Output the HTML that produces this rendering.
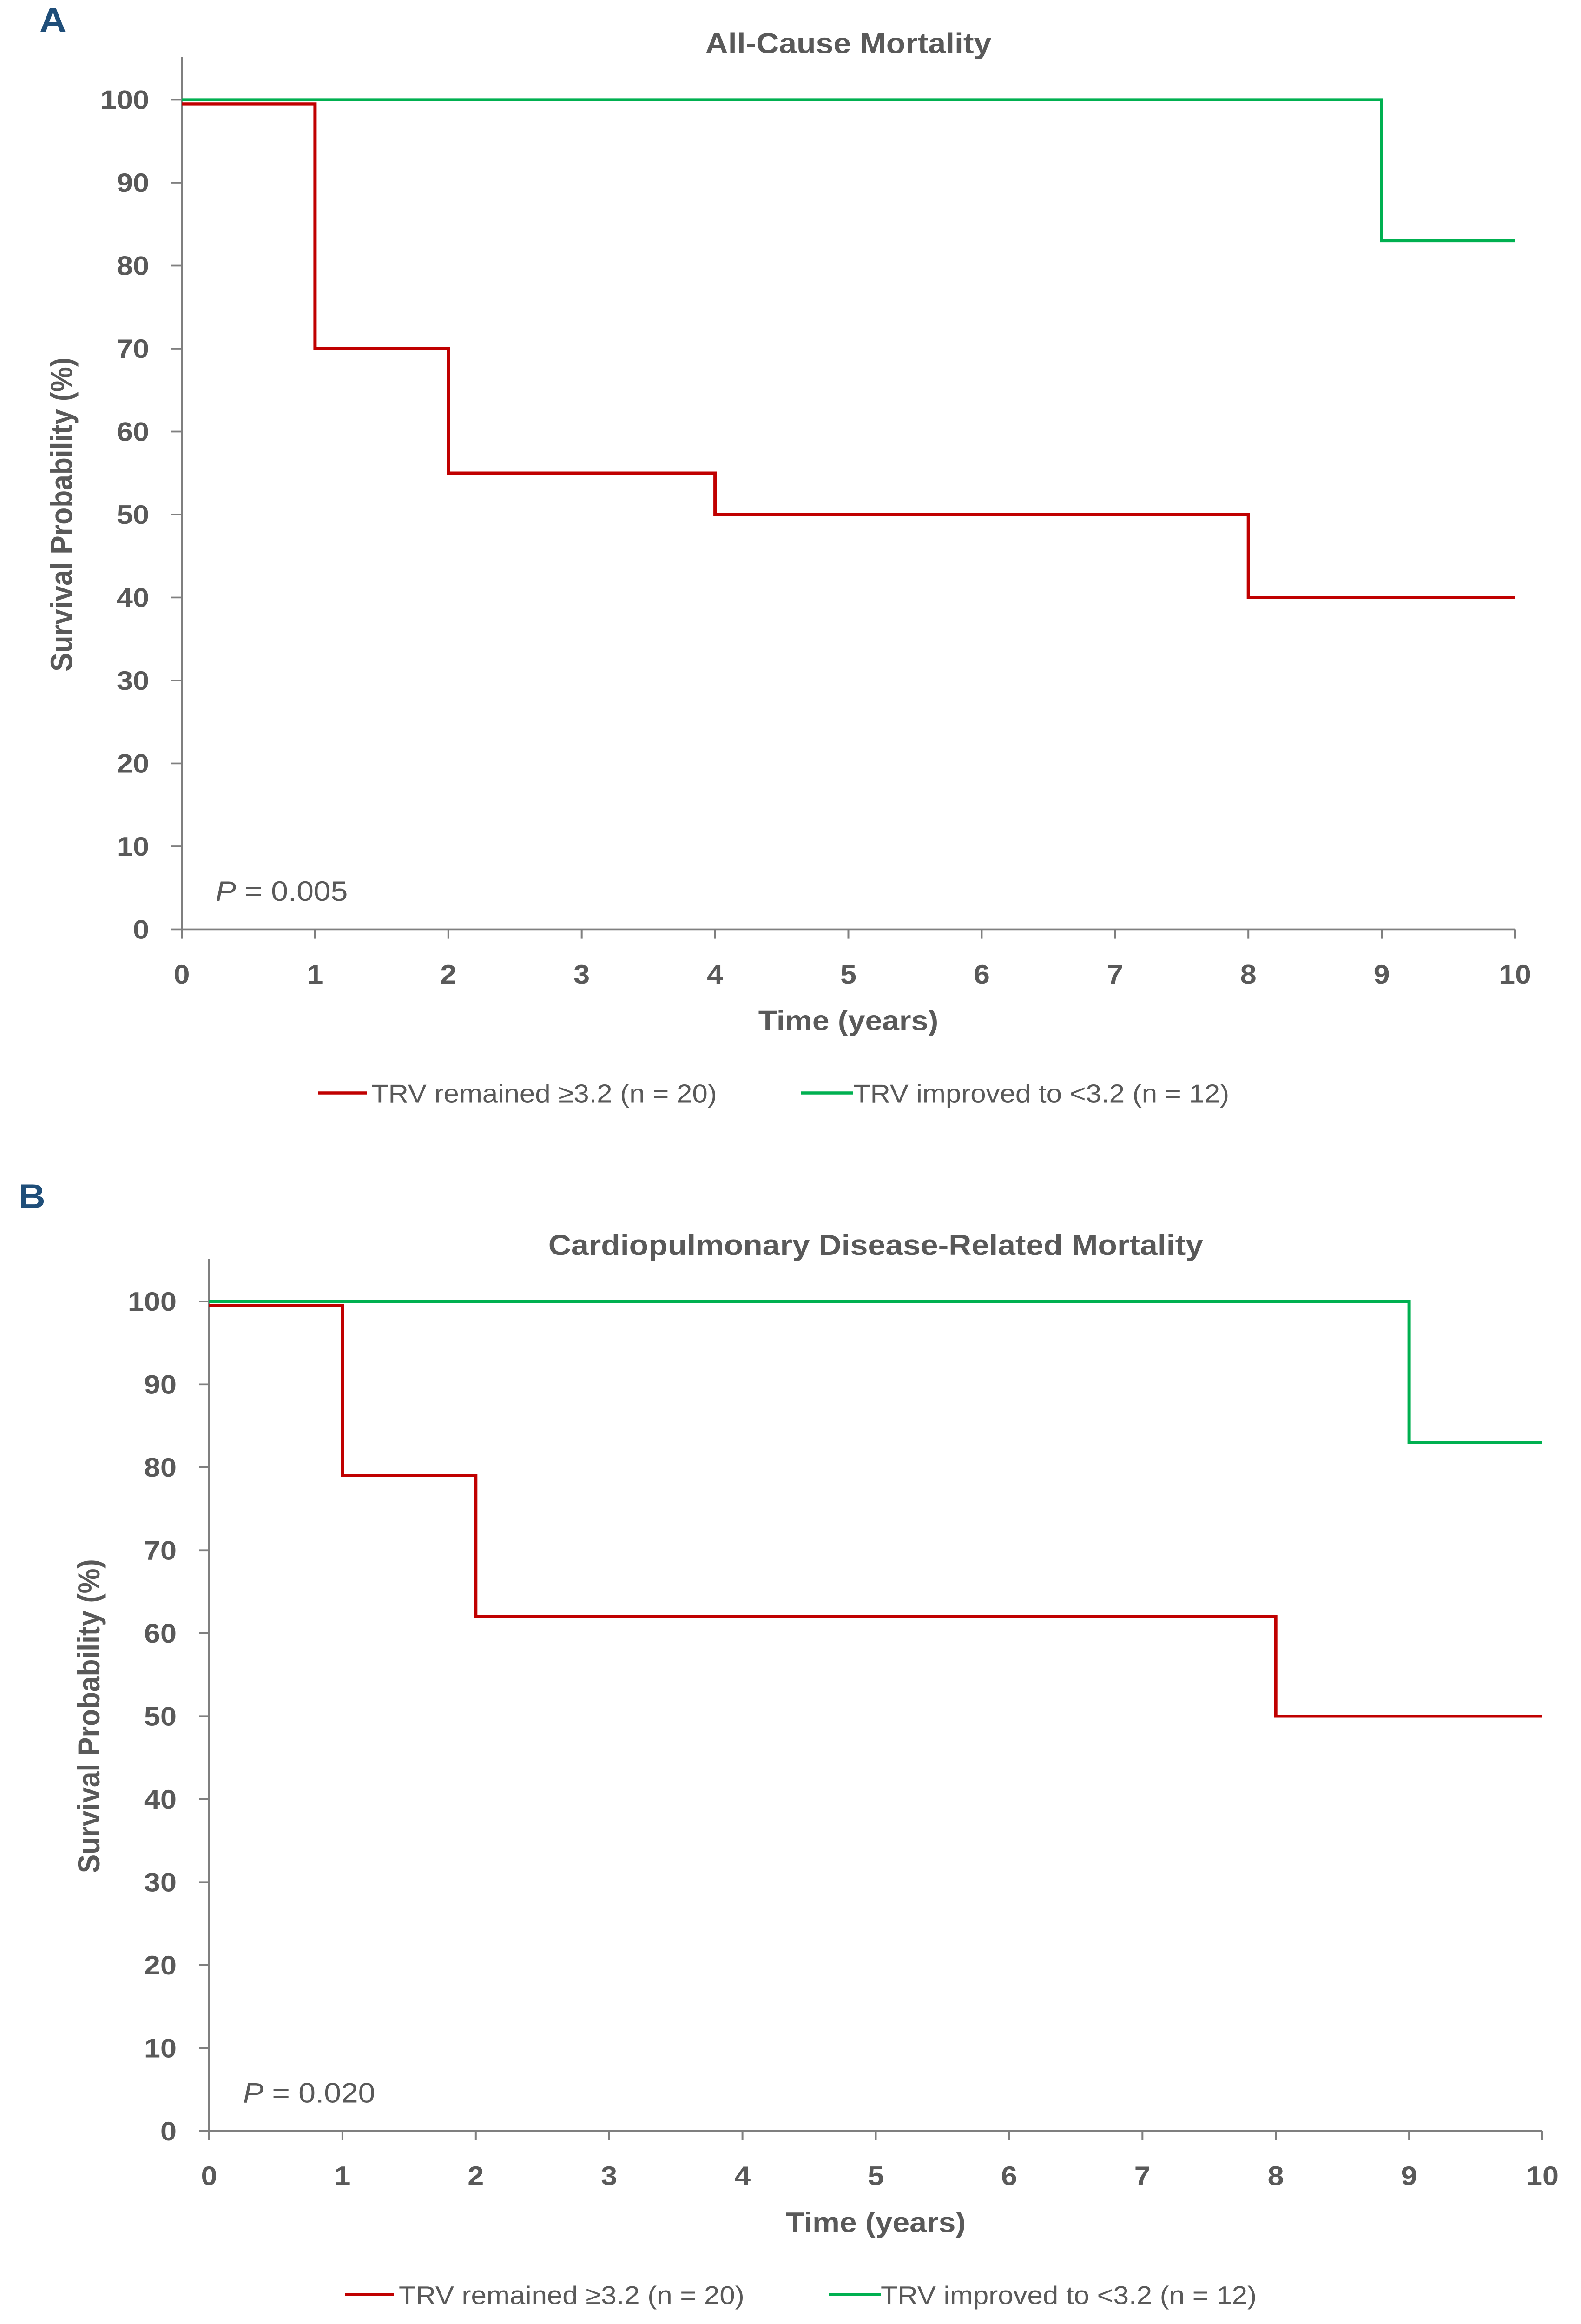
<!DOCTYPE html>
<html><head><meta charset="utf-8"><style>
html,body{margin:0;padding:0;background:#fff;width:100%;height:100%;overflow:hidden}
svg{display:block;position:fixed;left:0;top:0;width:100vw;height:100vh}
text{font-family:"Liberation Sans",sans-serif}
</style></head><body>
<svg id="chart" viewBox="0 0 3402 5454" preserveAspectRatio="none"></svg>
<script>
// Panel A data
const timesA_red=[0,1,2,4,8,10];
const survA_red=[99.5,70,55,50,40,40];
const timesA_green=[0,9,10];
const survA_green=[100,83,83];
// Panel B data
const timesB_red=[0,1,2,8,10];
const survB_red=[99.5,79,62,50,50];
const timesB_green=[0,9,10];
const survB_green=[100,83,83];
const xTicks=[0,1,2,3,4,5,6,7,8,9,10];
const yTicks=[0,10,20,30,40,50,60,70,80,90,100];

const NS="http://www.w3.org/2000/svg";
const svg=document.getElementById('chart');
function mk(tag,attrs,parent,txt){const e=document.createElementNS(NS,tag);for(const k in attrs)e.setAttribute(k,attrs[k]);if(txt!==undefined)e.textContent=txt;(parent||svg).appendChild(e);return e;}

function panel(cfg){
  const g=mk('g',{});
  
  
  const X=t=>cfg.x0+(cfg.x1-cfg.x0)*t/10;
  const Y=v=>cfg.y0+(cfg.y100-cfg.y0)*v/100;
  const gray='#595959';
  const lbl=mk('text',{x:cfg.labelX,y:cfg.labelY,'font-size':80,'font-weight':'bold',fill:'#1f4e79'},g,cfg.letter);
  
  const t=mk('text',{x:(cfg.x0+cfg.x1)/2,y:cfg.titleY,'font-size':68,'font-weight':'bold',fill:gray,'text-anchor':'middle'},g,cfg.title);
  
  const ya=mk('line',{x1:cfg.x0,y1:cfg.y0,x2:cfg.x0,y2:Y(100)-100,stroke:'#7f7f7f','stroke-width':4},g);
  
  const xa=mk('line',{x1:cfg.x0,y1:cfg.y0,x2:cfg.x1,y2:cfg.y0,stroke:'#7f7f7f','stroke-width':4},g);
  
  yTicks.forEach(v=>{
    const tk=mk('line',{x1:cfg.x0-22,y1:Y(v),x2:cfg.x0,y2:Y(v),stroke:'#7f7f7f','stroke-width':4},g);
    
    const tl=mk('text',{x:cfg.x0-70,y:Y(v)+22,'font-size':63,'font-weight':'bold',fill:gray,'text-anchor':'end'},g,v);
    
  });
  xTicks.forEach(v=>{
    const tk=mk('line',{x1:X(v),y1:cfg.y0,x2:X(v),y2:cfg.y0+22,stroke:'#7f7f7f','stroke-width':4},g);
    
    const tl=mk('text',{x:X(v),y:cfg.y0+127,'font-size':63,'font-weight':'bold',fill:gray,'text-anchor':'middle'},g,v);
    
  });
  const xt=mk('text',{x:(cfg.x0+cfg.x1)/2,y:cfg.y0+237,'font-size':66,'font-weight':'bold',fill:gray,'text-anchor':'middle'},g,'Time (years)');
  
  const ycx=cfg.yTitleX, ycy=(cfg.y0+Y(100))/2;
  const yt=mk('text',{x:ycx,y:ycy,'font-size':66,'font-weight':'bold',fill:gray,'text-anchor':'middle',transform:`rotate(-90 ${ycx} ${ycy})`},g,'Survival Probability (%)');
  
  const p=mk('text',{x:cfg.x0+73,y:cfg.y0-67,'font-size':66,fill:gray},g);
  mk('tspan',{'font-style':'italic'},p,'P');
  mk('tspan',{},p,' = '+cfg.p);
  
  function step(ts,vs,color,name){
    let d=`M${X(ts[0])},${Y(vs[0])}`;
    for(let i=1;i<ts.length;i++){d+=` H${X(ts[i])} V${Y(vs[i])}`;}
    const pa=mk('path',{d:d,fill:'none',stroke:color,'stroke-width':7},g);
    
  }
  step(cfg.gt,cfg.gv,'#00b050','series-trv-improved');
  step(cfg.rt,cfg.rv,'#c00000','series-trv-remained');
  const ly=cfg.legY;
  const l1=mk('g',{},g);
  mk('line',{x1:cfg.legX,y1:ly,x2:cfg.legX+105,y2:ly,stroke:'#c00000','stroke-width':7},l1);
  mk('text',{x:cfg.legX+115,y:ly+22,'font-size':60,fill:gray},l1,'TRV remained ≥3.2 (n = 20)');
  const l2=mk('g',{},g);
  mk('line',{x1:cfg.legX+1040,y1:ly,x2:cfg.legX+1152,y2:ly,stroke:'#00b050','stroke-width':7},l2);
  mk('text',{x:cfg.legX+1152,y:ly+22,'font-size':60,fill:gray},l2,'TRV improved to <3.2 (n = 12)');
}
panel({id:'a',letter:'A',labelX:85,labelY:75,title:'All-Cause Mortality',titleY:125,x0:391,x1:3260,y0:2181,y100:234,yTitleX:155,p:'0.005',legX:684,legY:2565,rt:timesA_red,rv:survA_red,gt:timesA_green,gv:survA_green});
panel({id:'b',letter:'B',labelX:40,labelY:2835,title:'Cardiopulmonary Disease-Related Mortality',titleY:2945,x0:450,x1:3319,y0:5001,y100:3054,yTitleX:214,p:'0.020',legX:743,legY:5385,rt:timesB_red,rv:survB_red,gt:timesB_green,gv:survB_green});
</script>
</body></html>
